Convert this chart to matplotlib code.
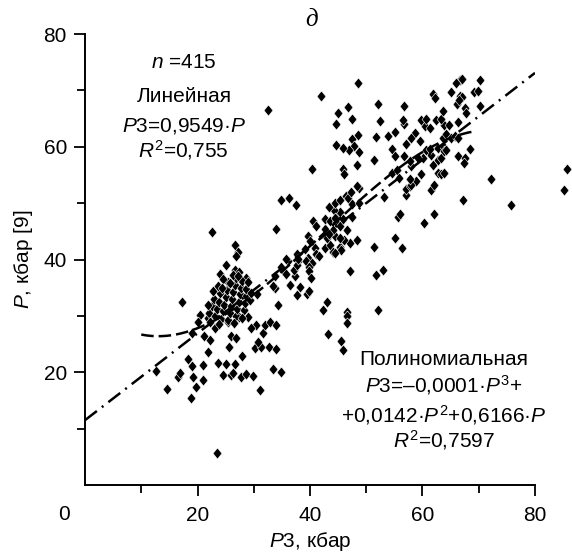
import numpy as np
import matplotlib
matplotlib.use('Agg')
import matplotlib.pyplot as plt
from matplotlib.ticker import MultipleLocator

plt.rcParams['font.family'] = ['Liberation Sans', 'DejaVu Sans']
plt.rcParams['mathtext.fontset'] = 'custom'
plt.rcParams['mathtext.rm'] = 'Liberation Sans'
plt.rcParams['mathtext.it'] = 'Liberation Sans:italic'

# (P3, P) pairs, kbar
low_points = [
    (12.7, 20.2), (14.5, 17.0), (16.6, 19.2), (16.9, 19.8), (18.4, 22.3), (19.0, 21.1),
    (19.2, 19.2), (19.7, 17.4), (18.9, 15.5), (20.9, 18.7), (21.0, 21.3), (23.4, 5.6),
    (24.5, 19.5), (26.0, 19.5), (26.3, 19.8), (27.8, 19.2), (28.7, 19.7), (29.8, 19.4),
    (31.1, 16.9), (33.4, 20.6), (34.9, 20.1), (23.7, 21.6), (25.0, 21.4), (26.6, 21.4),
    (28.0, 22.8), (21.9, 23.6), (25.6, 24.5), (30.2, 24.3), (31.2, 24.5), (32.7, 24.4),
    (34.0, 24.1), (30.8, 25.3), (19.1, 26.9), (21.1, 26.5), (22.2, 25.8), (25.9, 26.5),
    (26.9, 26.1), (31.7, 26.9), (23.1, 27.9), (17.3, 32.5), (20.4, 30.1), (20.1, 28.9),
    (21.8, 29.7), (27.4, 29.8), (29.0, 29.8), (25.5, 29.0), (30.4, 28.4), (29.6, 27.8),
    (32.0, 28.4), (32.9, 28.9), (34.0, 28.4), (34.3, 31.9), (30.6, 33.8), (28.6, 36.7),
    (22.5, 44.9), (26.7, 42.6), (27.2, 41.3), (26.9, 40.7), (25.0, 39.0), (24.0, 37.4),
    (26.7, 38.2), (27.3, 37.8), (32.6, 66.6),
]

cluster_points = [
    (22.0, 30.5), (22.5, 31.8), (23.0, 33.0), (23.2, 30.0), (23.5, 31.2), (23.8, 32.5),
    (24.0, 34.0), (24.2, 29.5), (24.5, 30.8), (24.7, 32.0), (25.0, 33.3), (25.2, 34.6),
    (25.4, 36.0), (25.5, 29.2), (25.8, 30.5), (26.0, 31.7), (26.2, 33.0), (26.4, 34.2),
    (26.6, 35.5), (26.8, 36.8), (26.9, 30.0), (27.1, 31.3), (27.3, 32.5), (27.5, 33.8),
    (27.7, 35.0), (27.9, 36.2), (28.2, 31.0), (28.4, 32.2), (28.6, 33.5), (28.7, 34.8),
    (29.0, 36.0), (22.8, 34.5), (23.6, 35.3), (24.6, 36.6), (21.8, 32.0), (22.3, 29.0),
    (29.3, 32.8), (24.3, 35.0), (25.7, 35.8), (26.3, 37.3), (27.2, 37.0), (23.9, 28.6),
    (26.5, 28.8), (28.0, 29.7), (29.5, 34.0),
]

mid_points = [
    (34.0, 45.4), (34.8, 50.5), (36.2, 50.9), (37.5, 49.7), (33.7, 34.9), (35.2, 38.2),
    (35.7, 37.5), (36.1, 39.7), (37.9, 39.7), (36.4, 35.4), (37.3, 37.0), (37.6, 33.7),
    (39.4, 33.9), (39.8, 34.5), (43.0, 32.4), (42.3, 31.0), (46.5, 30.6), (46.5, 30.0),
    (46.5, 28.8), (43.2, 26.8), (45.6, 25.6), (45.9, 23.9), (33.5, 35.3), (33.7, 37.0),
    (34.9, 38.7), (35.8, 40.1), (37.1, 38.2), (37.6, 39.1), (37.6, 40.9), (37.9, 40.1),
    (38.3, 35.2), (39.7, 40.3), (39.3, 39.7), (40.3, 39.4), (39.8, 38.7), (39.8, 37.9),
    (40.1, 36.7), (39.1, 41.9), (40.9, 42.0), (41.1, 41.0), (41.6, 40.6), (42.6, 42.0),
    (43.6, 42.6), (44.1, 41.3), (45.3, 42.3), (45.5, 41.6), (44.4, 41.2), (47.1, 42.9),
    (48.3, 43.4), (46.0, 43.5), (43.0, 43.8), (44.4, 44.2), (45.3, 43.8), (39.7, 44.2),
    (40.0, 43.2), (42.6, 45.4), (44.1, 45.2), (43.4, 44.6), (46.6, 45.3), (40.5, 46.8),
    (41.1, 46.0), (42.6, 47.1), (43.5, 46.8), (44.7, 46.6), (45.4, 46.0), (45.0, 48.0),
    (45.4, 48.4), (44.2, 48.8), (47.4, 47.5), (45.9, 47.1), (44.4, 47.4), (44.4, 50.0),
    (43.4, 49.3), (45.4, 50.6), (46.4, 51.2), (46.8, 50.9), (47.2, 51.9), (47.4, 49.9),
    (48.8, 50.0), (48.7, 52.7), (48.3, 53.0), (47.1, 37.9),
]

high_points = [
    (52.1, 31.1), (51.7, 37.3), (53.0, 38.2), (51.4, 42.3), (56.4, 42.0), (55.2, 43.9),
    (55.6, 47.5), (56.0, 48.0), (53.2, 51.1), (57.0, 51.5), (57.1, 52.5), (57.7, 53.0),
    (58.9, 53.9), (58.0, 53.3), (57.7, 54.2), (61.6, 52.4), (62.0, 53.3), (67.2, 50.5),
    (75.8, 49.6), (85.2, 52.4), (85.7, 56.0), (72.1, 54.3), (60.2, 46.5), (62.1, 48.1),
    (59.8, 55.1), (54.5, 55.4), (55.4, 55.9), (55.8, 54.5), (62.8, 55.4), (63.3, 55.2),
    (63.9, 55.4), (58.0, 56.5), (61.9, 56.8), (60.1, 58.0), (61.6, 58.6), (62.8, 57.7),
    (63.3, 58.0), (66.3, 58.3), (67.5, 58.0), (67.3, 57.2), (68.4, 59.6), (60.7, 59.5),
    (61.3, 59.6), (62.8, 59.8), (63.6, 60.2), (63.9, 59.2), (64.2, 59.5), (59.5, 61.0),
    (58.6, 62.5), (58.0, 61.6), (57.0, 60.4), (63.6, 61.6), (64.2, 62.3), (65.1, 61.6),
    (65.7, 61.9), (66.3, 61.6), (60.4, 63.6), (61.3, 63.3), (63.9, 63.8), (64.8, 63.9),
    (66.3, 64.4), (59.8, 64.8), (60.7, 64.9), (62.4, 64.8), (63.3, 64.9), (63.6, 66.4),
    (66.1, 67.5), (67.5, 66.9), (67.7, 66.0), (70.3, 67.2), (66.6, 69.0), (67.1, 68.9),
    (66.5, 68.3), (65.1, 69.7), (69.1, 69.7), (69.9, 69.9), (61.9, 69.4), (62.3, 68.7),
    (66.6, 71.9), (67.1, 72.1), (66.0, 71.3), (70.3, 71.8), (48.5, 71.3), (41.9, 69.0),
    (52.1, 67.6), (56.7, 67.2), (46.8, 67.1), (45.0, 65.9), (44.7, 64.1), (47.5, 64.9),
    (52.4, 64.5), (56.8, 64.1), (56.5, 64.8), (48.5, 62.0), (47.4, 61.3), (47.8, 60.1),
    (46.9, 59.5), (44.7, 60.3), (45.8, 59.8), (48.7, 59.0), (51.8, 61.8), (53.9, 61.9),
    (55.1, 62.6), (54.5, 59.6), (55.2, 58.3), (51.3, 57.7), (48.4, 56.8), (45.9, 56.1),
    (46.0, 55.1), (40.4, 56.1), (56.8, 58.3), (57.7, 57.4), (59.2, 58.0),
]

# trend lines as drawn
lin_coef = [0.77, 11.5]                          # slope, intercept
lin_range = (0, 80)
poly_coef = [-0.000357, 0.0455, -1.0025, 32.52]  # cubic, highest power first
poly_range = (10, 69)

pts = np.array(low_points + cluster_points + mid_points + high_points)

fig = plt.figure(figsize=(5.72, 5.52), dpi=100)
ax = fig.add_axes([85 / 572, 1 - 485 / 552, 450 / 572, 451 / 552])

diamond = [(0, 1), (0.8, 0), (0, -1), (-0.8, 0), (0, 1)]
ax.plot(pts[:, 0], pts[:, 1], ls='none', marker=diamond, ms=8,
        mfc='black', mec='white', mew=0.4, clip_on=False, zorder=2)

xl = np.linspace(*lin_range, 50)
ax.plot(xl, np.polyval(lin_coef, xl), color='black', lw=1.8,
        dashes=(6, 2.5, 0.8, 2.5), zorder=3)
xp = np.linspace(*poly_range, 200)
ax.plot(xp, np.polyval(poly_coef, xp), color='black', lw=1.8,
        dashes=(5, 2), zorder=3)

ax.set_xlim(0, 80)
ax.set_ylim(0, 80)
for s in ['top', 'right']:
    ax.spines[s].set_visible(False)
for s in ['left', 'bottom']:
    ax.spines[s].set_linewidth(1.4)

ax.set_xticks([20, 40, 60, 80])
ax.set_yticks([20, 40, 60, 80])
ax.set_xticks([10, 30, 50, 70], minor=True)
ax.set_yticks([10, 30, 50, 70], minor=True)
ax.tick_params(which='major', length=8, width=1.3, labelsize=15, pad=5)
ax.tick_params(which='minor', length=5.5, width=1.3)
ax.tick_params(axis='x', which='major', pad=7)

fig.text(64 / 572, 1 - 514 / 552, '0', fontsize=15, ha='center', va='center')

ax.set_xlabel(r'$P$3, кбар', fontsize=15, labelpad=4)
ax.set_ylabel(r'$P$, кбар [9]', fontsize=15, labelpad=6)

fig.text(312 / 572, 1 - 20 / 552, 'д', fontsize=18, ha='center', va='center',
         family='Liberation Serif', style='italic')

fs = 15
ax.text(17.6, 75.0, r'$n$ =415', fontsize=fs, ha='center', va='center')
ax.text(17.6, 68.9, 'Линейная', fontsize=fs, ha='center', va='center')
ax.text(17.6, 63.6, r'$P$3=0,9549·$P$', fontsize=fs, ha='center', va='center')
ax.text(17.4, 59.5, r'$R^2$=0,755', fontsize=fs, ha='center', va='center')

ax.text(63.8, 22.2, 'Полиномиальная', fontsize=fs, ha='center', va='center')
ax.text(63.8, 17.8, r'$P$3=–0,0001·$P^3$+', fontsize=fs, ha='center', va='center')
ax.text(63.8, 12.4, r'+0,0142·$P^2$+0,6166·$P$', fontsize=fs, ha='center', va='center')
ax.text(63.8, 8.0, r'$R^2$=0,7597', fontsize=fs, ha='center', va='center')

fig.savefig('out.png', dpi=100)
